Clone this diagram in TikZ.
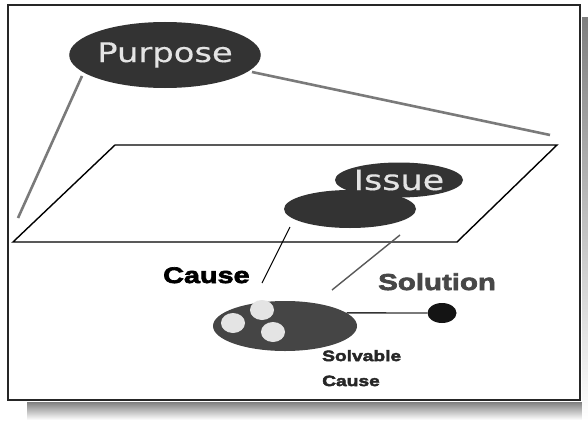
\documentclass[tikz,border=0pt]{standalone}
\usepackage{fontspec}
\usetikzlibrary{shapes.geometric}

% Wide sans faces for the blob captions and the bold labels
\newfontfamily\blobfont[FakeStretch=1.25, FakeBold=0.4]{DejaVu Sans}
\newfontfamily\labelfont[FakeStretch=1.28, FakeBold=3]{Liberation Sans}

\definecolor{ink}{HTML}{333333}
\definecolor{blob}{HTML}{454545}
\definecolor{pale}{HTML}{E4E4E4}
\definecolor{wire}{HTML}{7A7A7A}
\definecolor{shade}{HTML}{A6A6A6}
\definecolor{soltext}{HTML}{474747}

\tikzset{
  oval/.style={ellipse, fill=ink, draw=none, inner sep=0pt},
  caption/.style={text=pale, font=\blobfont},
  tag/.style={inner sep=0pt, font=\labelfont\bfseries},
  guide/.style={draw=wire, line width=2.6pt},
  plane/.style={draw=black, line width=1.4pt, line join=miter},
  thin link/.style={draw=black, line width=1.1pt},
  soft link/.style={draw=black!65, line width=1.4pt},
}

\begin{document}
\begin{tikzpicture}[x=1pt, y=-1pt]
\useasboundingbox (0,0) rectangle (588,420);
\fill[white] (0,0) rectangle (588,420);

% drop shadow of the slide frame
\fill[shade] (27,402) rectangle (588,420);
\fill[shade] (582,18) rectangle (588,420);

% slide frame
\draw[line width=1.8pt, draw=black!85, fill=white] (8,5) rectangle (580,400);

% the plane of the issue
\coordinate (pA) at (115,145);
\coordinate (pB) at (557,145);
\coordinate (pC) at (457,242);
\coordinate (pD) at (13,242);
\draw[plane] (pA) -- (pB) -- (pC) -- (pD) -- cycle;

% purpose above the plane
\node[oval, minimum width=164pt, minimum height=66pt, caption,
      font=\blobfont\fontsize{27}{27}\selectfont] (purpose) at (165,55) {Purpose};
\coordinate (purposeL) at (82,76);
\coordinate (purposeR) at (252,72);
\coordinate (planeL) at (18,218);
\coordinate (planeR) at (550,135);
\draw[guide] (purposeL) -- (planeL);
\draw[guide] (purposeR) -- (planeR);

% issue on the plane, with its shadow
\node[oval, minimum width=132pt, minimum height=38pt] (issueshadow) at (350,209) {};
\node[oval, minimum width=127pt, minimum height=35pt, caption,
      font=\blobfont\fontsize{28}{28}\selectfont] (issue) at (399,180) {Issue};

% cause below the plane
\node[oval, fill=blob, minimum width=144pt, minimum height=50pt] (cause) at (285,326) {};
\node[oval, fill=pale, minimum width=24pt, minimum height=20pt] (c1) at (233,323) {};
\node[oval, fill=pale, minimum width=24pt, minimum height=20pt] (c2) at (262,310) {};
\node[oval, fill=pale, minimum width=24pt, minimum height=20pt] (c3) at (273,332) {};

% solution
\node[oval, fill=black!92, minimum width=29pt, minimum height=20pt] (solution) at (442,313) {};
\draw[soft link, draw=ink] (cause.12) -- (solution.west);

% links through the plane
\coordinate (causeTop) at (290,227);
\coordinate (causeLow) at (262,283);
\coordinate (solTop) at (400,235);
\coordinate (solLow) at (332,290);
\draw[thin link] (causeTop) -- (causeLow);
\draw[soft link] (solTop) -- (solLow);

% labels
\node[tag, anchor=base west, font=\labelfont\bfseries\fontsize{22.5}{22.5}\selectfont]
  (causelabel) at (163,283) {Cause};
\node[tag, anchor=base west, text=soltext, font=\labelfont\bfseries\fontsize{23}{23}\selectfont]
  (solutionlabel) at (378,290) {Solution};
\node[tag, anchor=north west, align=left, text=black!85,
      font=\labelfont\bfseries\fontsize{15}{25}\selectfont]
  (solvable) at (322,350) {Solvable\\Cause};
\end{tikzpicture}
\end{document}
